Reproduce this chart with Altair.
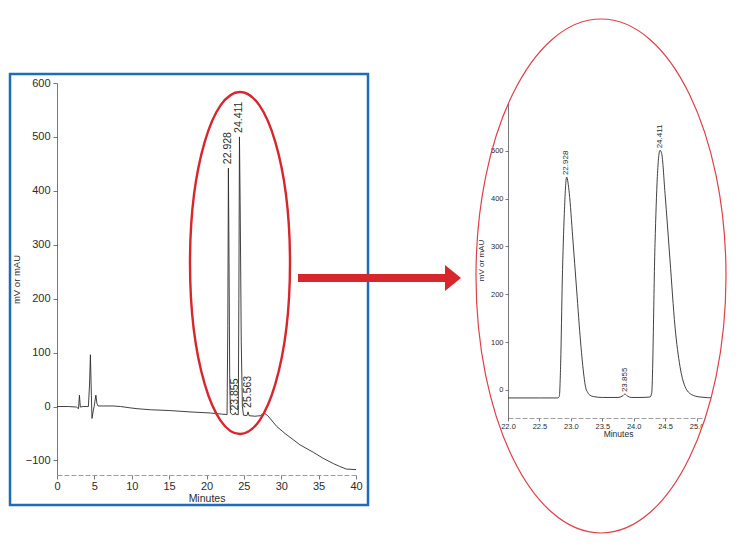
import altair as alt
import pandas as pd

# ---------------- data ----------------
# full chromatogram (left panel), minutes / mV
left_t = [0, 1.5, 2.6, 2.88, 3.0, 3.12, 3.5, 4.2, 4.35, 4.47, 4.6, 4.68, 4.85, 4.97,
          5.2, 5.35, 5.5, 6.2, 7.5, 8.5, 9.8, 10.7, 12.5, 15.1, 17.8, 20.5, 22.0, 22.75,
          22.85, 22.93, 23.0, 23.1, 23.2, 23.5, 23.8, 23.86, 23.95, 24.25, 24.33, 24.41,
          24.5, 24.65, 24.8, 24.95, 25.4, 25.56, 25.7, 26.5, 27.2, 27.7, 28.2, 29.4,
          30.5, 32.5, 34.3, 35.6, 37.0, 37.8, 38.7, 40.0]
left_v = [0, 0, -1, -4, 21, -1, 0, 0, 40, 96, 20, -22, -8, 0,
          21, 5, 1, 1, 1, 0, -2.5, -4, -6, -7.5, -10, -12, -14, -15,
          150, 442, 300, 60, -12, -15, -14, -11, -15, -15, 200, 500,
          380, 120, 0, -16, -17, -10, -17, -18, -17, -12, -17, -37,
          -50, -71, -85, -96, -106, -111, -116, -117]

# zoomed chromatogram (right panel)
right_t = [22.0, 22.5, 22.79, 22.816, 22.838, 22.864, 22.896, 22.933, 22.975, 23.029,
           23.092, 23.156, 23.209, 23.235, 23.262, 23.3, 23.357, 23.5, 23.75, 23.82,
           23.86, 23.9, 23.96, 24.1, 24.26, 24.286, 24.339, 24.376, 24.418, 24.445,
           24.498, 24.577, 24.657, 24.736, 24.816, 24.922, 25.054, 25.3, 25.5]
right_v = [-17, -17, -17, -14, 56, 230, 369, 445, 411, 320,
           209, 98, 28, 5, -4, -11, -14, -16, -16, -13,
           -9, -13, -16, -16, -15, -7, 306, 446, 501, 494,
           411, 272, 132, 49, 7, -10, -15, -17, -17]

left_lbl_names = ["22.928", "24.411", "23.855", "25.563"]
left_lbl_t = [22.928, 24.411, 23.855, 25.563]
left_lbl_v = [442, 500, -15, -10]

right_lbl_names = ["22.928", "23.855", "24.411"]
right_lbl_t = [22.928, 23.855, 24.411]
right_lbl_v = [445, -9, 501]

left_ticks_x = [0, 5, 10, 15, 20, 25, 30, 35, 40]
left_ticks_y = [-100, 0, 100, 200, 300, 400, 500, 600]
right_ticks_x = [22.0, 22.5, 23.0, 23.5, 24.0, 24.5, 25.0]
right_ticks_y = [0, 100, 200, 300, 400, 500]

# ---------------- styling ----------------
FONT = "Liberation Sans"
INK = "#2b2b2b"
RED = "#d8262d"
BLUE = "#1c6db5"

left_df = pd.DataFrame({"t": left_t, "v": left_v})
right_df = pd.DataFrame({"t": right_t, "v": right_v})
left_lbl_df = pd.DataFrame({"name": left_lbl_names, "t": left_lbl_t, "v": left_lbl_v})
right_lbl_df = pd.DataFrame({"name": right_lbl_names, "t": right_lbl_t, "v": right_lbl_v})
one = pd.DataFrame({"k": [0]})

lx = alt.Scale(domain=[0, 40], range=[0, 299], nice=False, zero=False)
ly = alt.Scale(domain=[-127, 600], range=[392, 0], nice=False, zero=False)
rx = alt.Scale(domain=[22, 25.5], range=[451, 671], nice=False, zero=False)
ry = alt.Scale(domain=[-60, 600], range=[335.5, 20], nice=False, zero=False)

left_line = alt.Chart(left_df).mark_line(color=INK, strokeWidth=0.9).encode(
    x=alt.X("t:Q", scale=lx, axis=alt.Axis(
        values=left_ticks_x, orient="bottom", title="Minutes", format="d",
        labelFontSize=11, titleFontSize=10.5, tickSize=4, labelPadding=1,
        labelFlush=False, labelOverlap=False, domainDash=[5, 2], domainColor="#888",
        titleX=149.5, titleY=18)),
    y=alt.Y("v:Q", scale=ly, axis=alt.Axis(
        values=left_ticks_y, orient="left", title="mV or mAU",
        labelFontSize=11, titleFontSize=9.5, tickSize=4, labelPadding=3,
        labelOverlap=False, titleX=-35.5, titleY=196)),
)

left_text = alt.Chart(left_lbl_df).mark_text(
    angle=270, align="left", baseline="middle", dx=4, fontSize=10.5, font=FONT, color=INK
).encode(
    x=alt.X("t:Q", scale=lx, axis=None),
    y=alt.Y("v:Q", scale=ly, axis=None),
    text="name:N",
)

right_line = alt.Chart(right_df).mark_line(color=INK, strokeWidth=0.9, interpolate="monotone").encode(
    x=alt.X("t:Q", scale=rx, axis=alt.Axis(
        values=right_ticks_x, orient="bottom", title="Minutes", format=".1f", offset=-57,
        labelFontSize=7.5, titleFontSize=8.5, tickSize=3, labelPadding=1,
        labelFlush=False, labelOverlap=False, domainDash=[5, 2], domainColor="#888",
        titleX=561, titleY=11)),
    y=alt.Y("v:Q", scale=ry, axis=alt.Axis(
        values=right_ticks_y, orient="left", title="mV or mAU", offset=-451,
        labelFontSize=7.5, titleFontSize=8, tickSize=3, labelPadding=2,
        labelOverlap=False, titleX=-23, titleY=177)),
)

right_text = alt.Chart(right_lbl_df).mark_text(
    angle=270, align="left", baseline="middle", dx=2, fontSize=8, font=FONT, color=INK
).encode(
    x=alt.X("t:Q", scale=rx, axis=None),
    y=alt.Y("v:Q", scale=ry, axis=None),
    text="name:N",
)

# ---------------- decorations (frame, highlight ellipses, arrow) ----------------
box = alt.Chart(one).mark_rect(filled=False, stroke=BLUE, strokeWidth=2.5).encode(
    x=alt.value(-47), x2=alt.value(311), y=alt.value(-9), y2=alt.value(422))

small_ellipse = alt.Chart(one).mark_point(
    shape="M -50 0 A 50 171 0 1 0 50 0 A 50 171 0 1 0 -50 0 Z",
    size=4, filled=False, color=RED, strokeWidth=2.4, opacity=1,
).encode(x=alt.value(183), y=alt.value(180))

arrow_shaft = alt.Chart(one).mark_rect(color=RED).encode(
    x=alt.value(241), x2=alt.value(390), y=alt.value(191), y2=alt.value(199))

arrow_head = alt.Chart(one).mark_point(
    shape="M 0 -13 L 16 0 L 0 13 Z", size=4, filled=True, color=RED,
    strokeWidth=0, opacity=1,
).encode(x=alt.value(388), y=alt.value(195))

mask = alt.Chart(one).mark_point(
    shape="M 0 -300 L 200 -300 L 200 300 L 0 300 L 0 257 A 125 257 0 0 0 0 -257 Z",
    size=4, filled=True, color="white", strokeWidth=0, opacity=1,
).encode(x=alt.value(544), y=alt.value(193))

big_ellipse = alt.Chart(one).mark_point(
    shape="M -125 0 A 125 257 0 1 0 125 0 A 125 257 0 1 0 -125 0 Z",
    size=4, filled=False, color="#e0404a", strokeWidth=1.2, opacity=1,
).encode(x=alt.value(544), y=alt.value(193))

chart = alt.layer(
    box, left_line, left_text, small_ellipse, arrow_shaft, arrow_head,
    right_line, right_text, mask, big_ellipse,
).resolve_scale(
    x="independent", y="independent"
).properties(
    width=299, height=392,
    padding={"left": 49, "top": 75, "right": 376, "bottom": 63},
    autosize=alt.AutoSizeParams(type="none"),
    background="white",
).configure_view(
    strokeWidth=0
).configure_axis(
    labelFont=FONT, titleFont=FONT, labelColor=INK, titleColor=INK,
    titleFontWeight="normal", domainColor="#555", tickColor="#555",
    domainWidth=0.8, tickWidth=0.8, grid=False,
)

chart.save("out.html", embed_options={"renderer": "svg", "actions": False})
